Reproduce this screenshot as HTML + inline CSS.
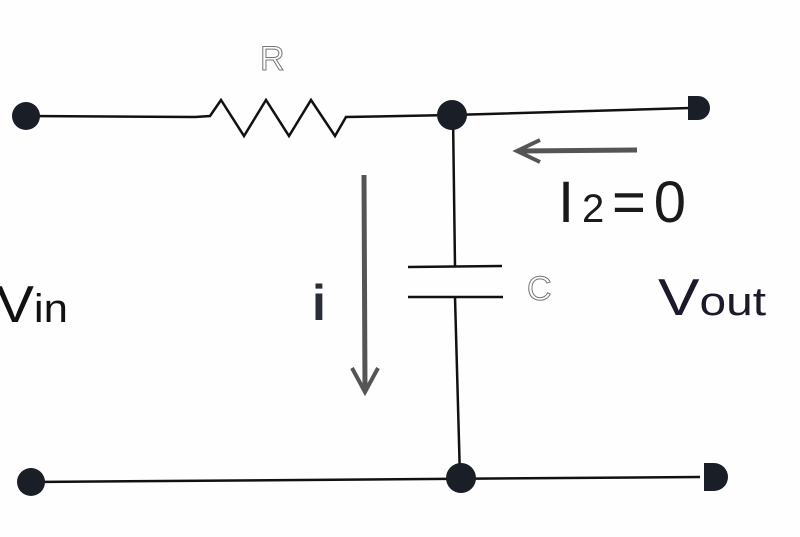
<!DOCTYPE html>
<html><head><meta charset="utf-8"><style>
html,body{margin:0;padding:0;background:#fff;}
svg{display:block;}
</style></head><body>
<svg width="800" height="537" viewBox="0 0 800 537" xmlns="http://www.w3.org/2000/svg">
<rect width="800" height="537" fill="#fefefe"/>
<g stroke="#111" stroke-width="2.5" fill="none" stroke-linejoin="miter">
<polyline points="27,116 195,117 210,116 221,100 244,136 266,100 289,136 311,100 335,136 346,117 452,115 690,108"/>
<line x1="453" y1="115" x2="455" y2="267"/>
<line x1="408" y1="267" x2="502" y2="266"/>
<line x1="408" y1="297" x2="503" y2="297"/>
<line x1="455" y1="297" x2="460" y2="478"/>
<line x1="32" y1="482" x2="700" y2="477"/>
</g>
<g fill="#1a1e26">
<circle cx="26" cy="116" r="14"/>
<circle cx="31" cy="482" r="14"/>
<circle cx="452" cy="115" r="15"/>
<circle cx="461" cy="478" r="15"/>
<path d="M688,96 h10 a12,12 0 0 1 0,24 h-10 z"/>
<path d="M704,463 h10 a14,14 0 0 1 0,28 h-10 z"/>
</g>
<g stroke="#555" stroke-width="5" fill="none">
<line x1="364" y1="175" x2="365" y2="390"/>
<polyline points="352,368 365,392 378,368" stroke-width="4"/>
<line x1="637" y1="150" x2="520" y2="151"/>
<polyline points="540,140 517,151 540,162" stroke-width="4"/>
</g>
<g font-family="Liberation Sans, sans-serif">
<text x="260" y="70" font-size="34" fill="none" stroke="#777" stroke-width="1">R</text>
<text x="527" y="300" font-size="34" fill="none" stroke="#777" stroke-width="1">C</text>
<text x="312" y="320" font-size="50" font-weight="bold" fill="#2a2e36">i</text>
<text x="558" y="222" font-size="58" fill="#1a1a1a" textLength="128" lengthAdjust="spacing">I<tspan font-size="40">2</tspan>=0</text>
<text x="-4" y="322" font-size="52" fill="#111" textLength="72" lengthAdjust="spacingAndGlyphs">V<tspan font-size="40">in</tspan></text>
<text x="658" y="315" font-size="52" fill="#1a1a2a" textLength="108" lengthAdjust="spacingAndGlyphs">V<tspan font-size="40">out</tspan></text>
</g>
</svg>
</body></html>
